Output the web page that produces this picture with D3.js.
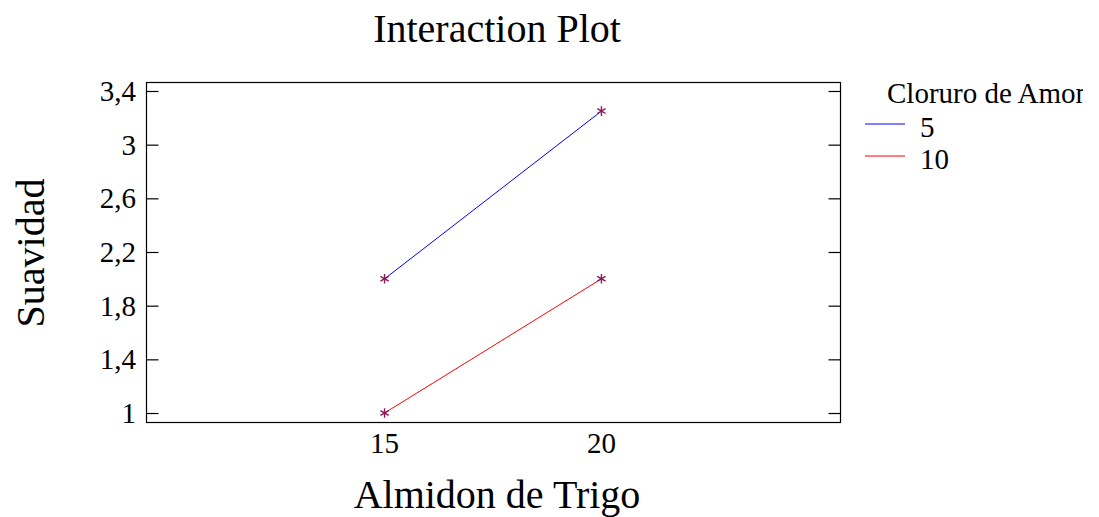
<!DOCTYPE html>
<html>
<head>
<meta charset="utf-8">
<script src="https://cdn.jsdelivr.net/npm/d3@7"></script>
<style>
  body { margin: 0; background: #fff; }
  text { font-family: "Liberation Serif", "Times New Roman", serif; fill: #000; }
</style>
</head>
<body>
<svg id="chart" width="1099" height="517"></svg>
<script>
const xLevels = [15, 20];
const groups = ["5", "10"];
const means5 = [2.0, 3.25];
const means10 = [1.0, 2.0];
const yTicks = [1, 1.4, 1.8, 2.2, 2.6, 3, 3.4];
const colors = ["#0000ff", "#ff0000"];

const margin = { left: 146, top: 82, right: 840, bottom: 422 };

const svg = d3.select("#chart");

const x = d3.scaleLinear().domain([9.5, 25.5]).range([margin.left, margin.right]);
const y = d3.scaleLinear().domain([0.933, 3.467]).range([margin.bottom, margin.top]);

const fmt = d => String(d).replace(".", ",");

// frame
svg.append("rect")
  .attr("x", margin.left + 0.5)
  .attr("y", margin.top + 0.5)
  .attr("width", margin.right - margin.left)
  .attr("height", margin.bottom - margin.top)
  .attr("fill", "none")
  .attr("stroke", "#000")
  .attr("stroke-width", 1.2);

// left and right axes (ticks inward)
const yl = svg.append("g").attr("transform", `translate(${margin.left + 0.5},0)`)
  .call(d3.axisRight(y).tickValues(yTicks).tickSize(12).tickFormat(""));
const yr = svg.append("g").attr("transform", `translate(${margin.right + 0.5},0)`)
  .call(d3.axisLeft(y).tickValues(yTicks).tickSize(12).tickFormat(""));
[yl, yr].forEach(g => {
  g.select(".domain").remove();
  g.selectAll("line").attr("stroke", "#000").attr("stroke-width", 1.2);
});

svg.append("g").selectAll("text").data(yTicks).join("text")
  .attr("x", margin.left - 10)
  .attr("y", d => y(d))
  .attr("dy", "0.35em")
  .attr("text-anchor", "end")
  .attr("font-size", 29)
  .text(fmt);

svg.append("g").selectAll("text").data(xLevels).join("text")
  .attr("x", d => x(d))
  .attr("y", margin.bottom + 31)
  .attr("text-anchor", "middle")
  .attr("font-size", 29)
  .text(d => d);

// lines
const line = d3.line().x((d, i) => x(xLevels[i])).y(d => y(d));
const series = [means5, means10];
svg.append("g").selectAll("path").data(series).join("path")
  .attr("d", line)
  .attr("fill", "none")
  .attr("stroke", (d, i) => colors[i])
  .attr("stroke-width", 1);

// star markers
const star = d3.symbol().type(d3.symbolAsterisk).size(64);
const pts = series.flatMap(s => s.map((v, i) => ({ x: xLevels[i], y: v })));
svg.append("g").selectAll("path").data(pts).join("path")
  .attr("transform", d => `translate(${x(d.x)},${y(d.y)})`)
  .attr("d", star)
  .attr("fill", "none")
  .attr("stroke", "#8a1a5a")
  .attr("stroke-width", 1.4);

// titles
svg.append("text")
  .attr("x", 497).attr("y", 42)
  .attr("text-anchor", "middle")
  .attr("font-size", 40)
  .text("Interaction Plot");

svg.append("text")
  .attr("x", 497).attr("y", 508)
  .attr("text-anchor", "middle")
  .attr("font-size", 40)
  .text("Almidon de Trigo");

svg.append("text")
  .attr("transform", "translate(44,253) rotate(-90)")
  .attr("text-anchor", "middle")
  .attr("font-size", 40)
  .text("Suavidad");

// legend (title is clipped at the right edge, as in the original)
svg.append("clipPath").attr("id", "lclip")
  .append("rect").attr("x", 850).attr("y", 60).attr("width", 233).attr("height", 150);
const lg = svg.append("g").attr("clip-path", "url(#lclip)");
lg.append("text")
  .attr("x", 887).attr("y", 103)
  .attr("font-size", 29)
  .text("Cloruro de Amonio");
groups.forEach((g, i) => {
  const yy = 124 + i * 32;
  lg.append("line")
    .attr("x1", 865).attr("x2", 905)
    .attr("y1", yy).attr("y2", yy)
    .attr("stroke", colors[i]).attr("stroke-width", 1);
  lg.append("text")
    .attr("x", 920).attr("y", yy)
    .attr("dy", "0.45em")
    .attr("font-size", 29)
    .text(g);
});
</script>
</body>
</html>
